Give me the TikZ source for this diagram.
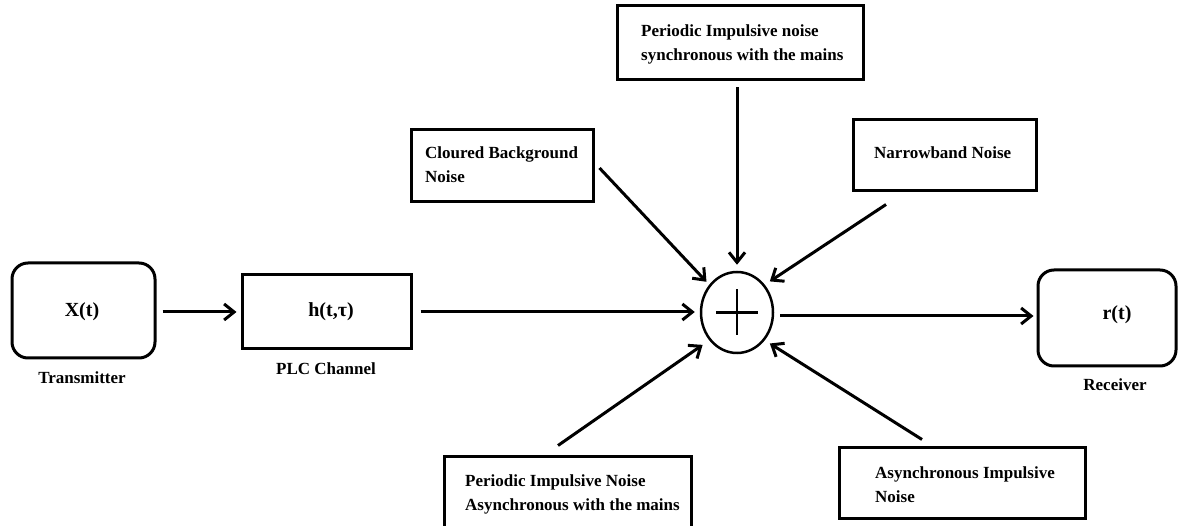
\documentclass[tikz,border=0pt]{standalone}
\usepackage{fontspec}
\setmainfont{Liberation Serif}
\usetikzlibrary{arrows.meta,shapes.geometric}
\tikzset{
  box/.style={draw, line width=3pt, rectangle, inner sep=0pt},
  rbox/.style={box, rounded corners=16pt},
  txt/.style={inner sep=0pt, align=left, font=\fontsize{17}{24}\selectfont\bfseries},
  big/.style={inner sep=0pt, font=\fontsize{20}{24}\selectfont\bfseries},
  arr/.style={line width=3pt, -{Straight Barb[length=10pt,width=16pt]}},
  sumnode/.style={draw, ellipse, line width=2.5pt, inner sep=0pt, minimum width=72pt, minimum height=81pt}
}
\begin{document}
\begin{tikzpicture}[x=1pt,y=-1pt]
\clip (0,0) rectangle (1179,526);
\fill[white] (0,0) rectangle (1179,526);
% main chain
\node[rbox, minimum width=143pt, minimum height=95pt] (tx) at (83.5,310.5) {};
\node[big] (txt-x) at (82,312) {X(t)};
\node[txt] (lab-tx) at (82,378) {Transmitter};
\node[box, minimum width=169pt, minimum height=74pt] (plc) at (326.5,312) {};
\node[big] (txt-h) at (331,312) {h(t,τ)};
\node[txt] (lab-plc) at (326,369) {PLC Channel};
\node[sumnode] (sum) at (737,312.5) {};
\draw[line width=2.5pt] ([xshift=-21pt]sum.center) -- ([xshift=21pt]sum.center);
\draw[line width=2.5pt] ([yshift=23pt]sum.center) -- ([yshift=-23pt]sum.center);
\node[rbox, minimum width=138pt, minimum height=96pt] (rx) at (1107,318) {};
\node[big] (txt-r) at (1117,315) {r(t)};
\node[txt] (lab-rx) at (1115,385) {Receiver};
% noise boxes
\node[box, minimum width=246pt, minimum height=74pt] (top) at (740,43) {};
\node[txt, anchor=west] (top-t) at (641,44) {Periodic Impulsive noise\\synchronous with the mains};
\node[box, minimum width=182pt, minimum height=72pt] (cb) at (502,166) {};
\node[txt, anchor=west] (cb-t) at (425,165) {Cloured Background\\Noise};
\node[box, minimum width=183pt, minimum height=71pt] (nb) at (944.5,155.5) {};
\node[txt, anchor=west] (nb-t) at (874,153) {Narrowband Noise};
\node[box, minimum width=247pt, minimum height=75pt] (bl) at (567.5,494.5) {};
\node[txt, anchor=west] (bl-t) at (465,494.5) {Periodic Impulsive Noise\\Asynchronous with the mains};
\node[box, minimum width=246pt, minimum height=71pt] (br) at (962,483.5) {};
\node[txt, anchor=west] (br-t) at (875,485) {Asynchronous Impulsive\\Noise};
% connectors
\draw[arr, shorten <=6pt, shorten >=4pt] (tx.east |- plc.west) -- (plc.west);
\draw[arr, shorten <=8pt, shorten >=5pt] (plc.east) -- (plc.east -| sum.west);
\draw[arr, shorten <=6pt, shorten >=3pt] (sum.east |- 0,316) -- (rx.west |- 0,316);
\draw[arr, shorten >=6pt] ([shift={(-3pt,-6pt)}]top.south) -- (sum.north);
\draw[arr, shorten >=4pt] ([shift={(5pt,-2pt)}]cb.east) -- (sum.135);
\draw[arr, shorten >=6pt] ([shift={(-58.5pt,-12pt)}]nb.south) -- (sum.45);
\draw[arr, shorten >=8pt] ([shift={(-9.5pt,10pt)}]bl.north) -- (sum.225);
\draw[arr, shorten >=6pt] ([shift={(-40pt,7pt)}]br.north) -- (sum.315);
\end{tikzpicture}
\end{document}
